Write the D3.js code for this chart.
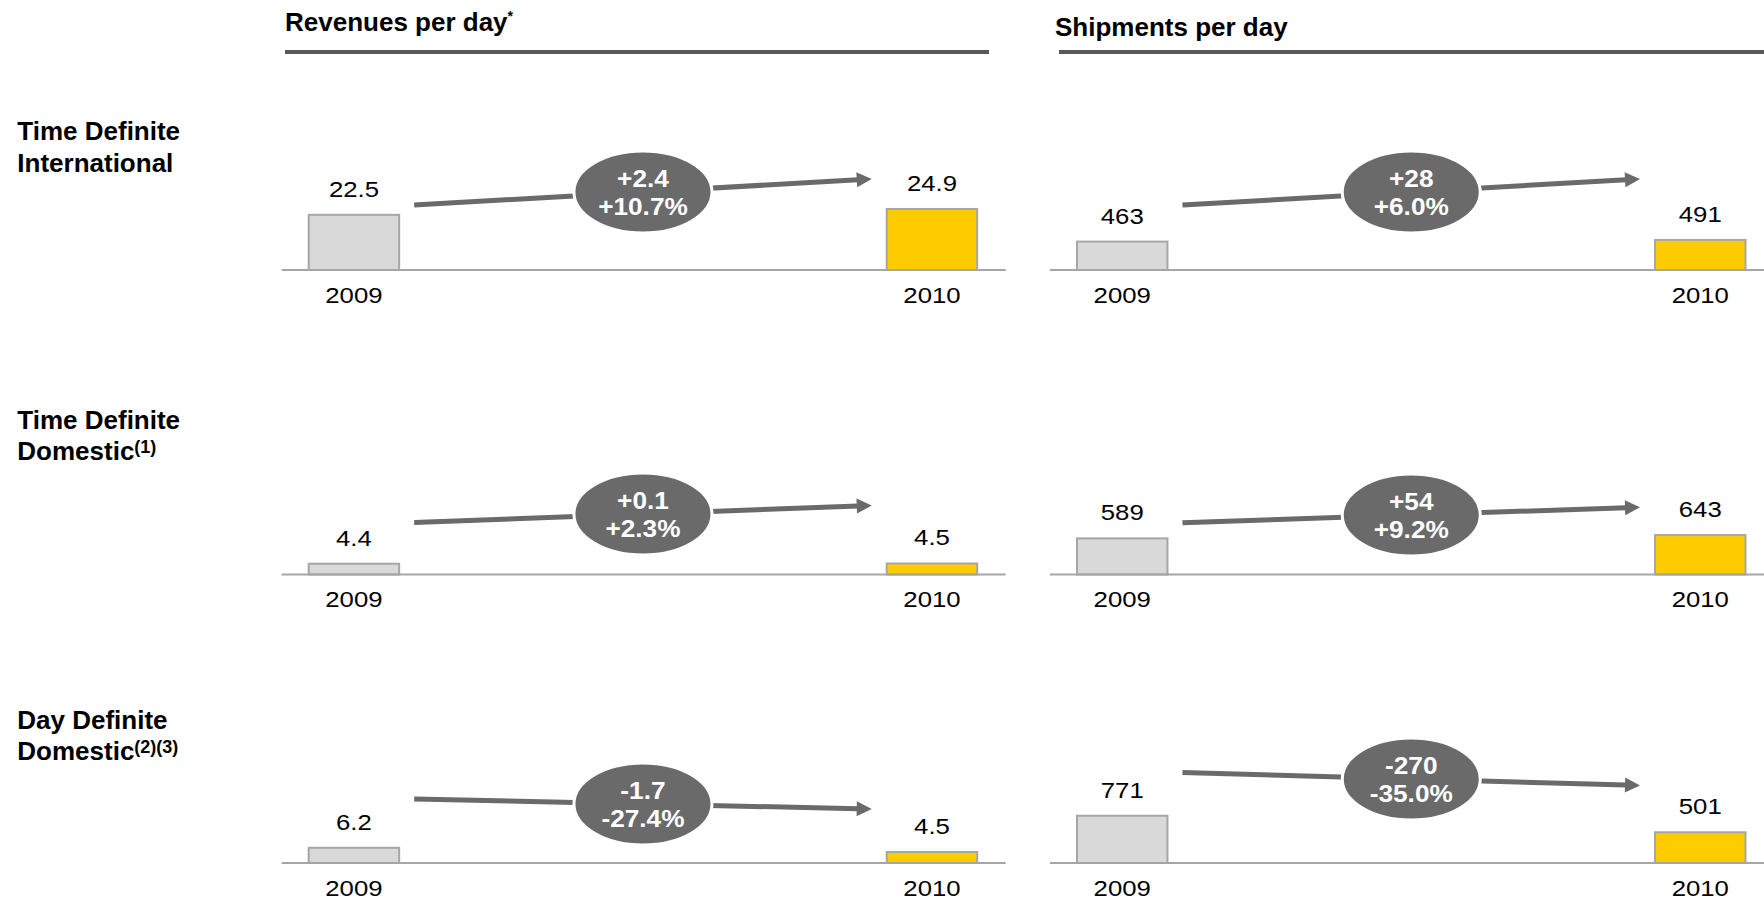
<!DOCTYPE html>
<html>
<head>
<meta charset="utf-8">
<script src="https://cdn.jsdelivr.net/npm/d3@7"></script>
<style>
  html, body { margin: 0; padding: 0; background: #fff; overflow: hidden; }
  svg { display: block; font-family: "Liberation Sans", Arial, Helvetica, sans-serif; }
</style>
</head>
<body>
<svg id="chart" width="1764" height="901"></svg>
<script>
// ---------------- data ----------------
const years = ["2009", "2010"];
const panelTitles = ["Revenues per day", "Shipments per day"];
const panelTitleMarks = ["*", ""];
const rowLabelLine1 = ["Time Definite", "Time Definite", "Day Definite"];
const rowLabelLine2 = ["International", "Domestic", "Domestic"];
const rowLabelNotes = ["", "(1)", "(2)(3)"];

const revenues2009 = [22.5, 4.4, 6.2];
const revenues2010 = [24.9, 4.5, 4.5];
const shipments2009 = [463, 589, 771];
const shipments2010 = [491, 643, 501];

const revenueChange = ["+2.4", "+0.1", "-1.7"];
const revenueChangePct = ["+10.7%", "+2.3%", "-27.4%"];
const shipmentChange = ["+28", "+54", "-270"];
const shipmentChangePct = ["+6.0%", "+9.2%", "-35.0%"];

const revenueLabels = [["22.5", "24.9"], ["4.4", "4.5"], ["6.2", "4.5"]];
const shipmentLabels = [["463", "491"], ["589", "643"], ["771", "501"]];

// ---------------- layout (positions / styles only) ----------------
const L = {
  panelX: [281.7, 1050],
  panelW: 724,
  barInsetL: 27,
  barInsetR: 28.5,
  rowAxisY: [270, 574.5, 863],
  barMaxH: 61.3,
  titleX: [285, 1055],
  titleY: [30.5, 36],
  headerX: [[285, 989], [1059, 1780]],
  headerY: 52,
  rowLabelX: 17.3,
  rowLabelY: [140, 428.5, 728.5],
  rowLabelGap: 31.6,
  yearOffset: 32.5,
  valueOffset: 18,
  // arrow centre height above axis, and absolute tilt (px), per [row][panel]
  arrowLift: [[78, 78], [60.5, 59.5], [59, 84]],
  arrowTilt: [[26, 26], [17, 15.5], [10, 13]],
  arrowGap: 15,
  ellRx: 69, ellRy: 41
};
const colors = { y2009: "#d9d9d9", y2010: "#ffcc00", barStroke: "#a6a6a6",
                 axis: "#a6a6a6", header: "#595959", arrow: "#6a6a6a" };

const panels = [
  { v09: revenues2009, v10: revenues2010, labels: revenueLabels,
    chg: revenueChange, pct: revenueChangePct, domain: [0, 25] },
  { v09: shipments2009, v10: shipments2010, labels: shipmentLabels,
    chg: shipmentChange, pct: shipmentChangePct, domain: [0, 1000] }
];

const svg = d3.select("#chart");

// titles + header rules
panels.forEach((p, pi) => {
  const t = svg.append("text")
    .attr("x", L.titleX[pi]).attr("y", L.titleY[pi])
    .attr("font-size", 26).attr("font-weight", "bold").attr("fill", "#000")
    .text(panelTitles[pi]);
  if (panelTitleMarks[pi]) {
    t.append("tspan").attr("font-size", 14).attr("dy", -10).text(panelTitleMarks[pi]);
  }
  svg.append("line")
    .attr("x1", L.headerX[pi][0]).attr("x2", L.headerX[pi][1])
    .attr("y1", L.headerY).attr("y2", L.headerY)
    .attr("stroke", colors.header).attr("stroke-width", 4);
});

// row labels
rowLabelLine1.forEach((l1, r) => {
  svg.append("text").attr("x", L.rowLabelX).attr("y", L.rowLabelY[r])
    .attr("font-size", 26).attr("font-weight", "bold").text(l1);
  const t2 = svg.append("text").attr("x", L.rowLabelX).attr("y", L.rowLabelY[r] + L.rowLabelGap)
    .attr("font-size", 26).attr("font-weight", "bold");
  t2.append("tspan").text(rowLabelLine2[r]);
  if (rowLabelNotes[r]) {
    t2.append("tspan").attr("font-size", 18).attr("dy", -7).text(rowLabelNotes[r]);
  }
});

// panels
panels.forEach((p, pi) => {
  const px = L.panelX[pi];
  const x = d3.scaleBand().domain(years)
    .range([px + L.barInsetL, px + L.panelW - L.barInsetR])
    .paddingInner(0.8435).paddingOuter(0);
  const h = d3.scaleLinear().domain(p.domain).range([0, L.barMaxH]);

  L.rowAxisY.forEach((axisY, r) => {
    const vals = [p.v09[r], p.v10[r]];
    const g = svg.append("g");

    // bars
    g.selectAll("rect").data(years).join("rect")
      .attr("x", d => x(d))
      .attr("width", x.bandwidth())
      .attr("y", (d, i) => axisY - h(vals[i]))
      .attr("height", (d, i) => h(vals[i]))
      .attr("fill", (d, i) => i === 0 ? colors.y2009 : colors.y2010)
      .attr("stroke", colors.barStroke).attr("stroke-width", 2);

    // axis line
    g.append("line")
      .attr("x1", px).attr("x2", px + L.panelW)
      .attr("y1", axisY).attr("y2", axisY)
      .attr("stroke", colors.axis).attr("stroke-width", 2);

    // value labels
    g.selectAll("text.val").data(years).join("text").attr("class", "val")
      .attr("transform", (d, i) => `translate(${x(d) + x.bandwidth() / 2},${axisY - h(vals[i]) - L.valueOffset}) scale(1.12,1)`)
      .attr("text-anchor", "middle").attr("font-size", 23).attr("fill", "#000")
      .text((d, i) => p.labels[r][i]);

    // year labels
    g.selectAll("text.yr").data(years).join("text").attr("class", "yr")
      .attr("transform", d => `translate(${x(d) + x.bandwidth() / 2},${axisY + L.yearOffset}) scale(1.12,1)`)
      .attr("text-anchor", "middle").attr("font-size", 23).attr("fill", "#000")
      .text(d => d);

    // change arrow
    const sign = vals[1] >= vals[0] ? 1 : -1;
    const tilt = L.arrowTilt[r][pi] * sign;
    const midY = axisY - L.arrowLift[r][pi];
    const x1 = x(years[0]) + x.bandwidth() + L.arrowGap;
    const x2 = x(years[1]) - L.arrowGap;
    const y1 = midY + tilt / 2, y2 = midY - tilt / 2;
    const ang = Math.atan2(y2 - y1, x2 - x1);
    const headL = 15, headW = 7.5;
    const bx = x2 - headL * Math.cos(ang), by = y2 - headL * Math.sin(ang);
    g.append("line").attr("x1", x1).attr("y1", y1).attr("x2", bx + Math.cos(ang)).attr("y2", by + Math.sin(ang))
      .attr("stroke", colors.arrow).attr("stroke-width", 5);
    g.append("path")
      .attr("d", `M${x2},${y2} L${bx - headW * Math.sin(ang)},${by + headW * Math.cos(ang)} L${bx + headW * Math.sin(ang)},${by - headW * Math.cos(ang)} Z`)
      .attr("fill", colors.arrow);

    // ellipse with change
    const cx = (x(years[0]) + x(years[1]) + x.bandwidth()) / 2;
    const cy = y1 + (y2 - y1) * (cx - x1) / (x2 - x1);
    g.append("ellipse").attr("cx", cx).attr("cy", cy).attr("rx", L.ellRx).attr("ry", L.ellRy)
      .attr("fill", colors.arrow).attr("stroke", "#fff").attr("stroke-width", 3);
    [[p.chg[r], -5], [p.pct[r], 23]].forEach(([txt, dy]) => {
      g.append("text")
        .attr("transform", `translate(${cx},${cy + dy}) scale(1.14,1)`)
        .attr("text-anchor", "middle").attr("font-size", 23).attr("font-weight", "bold")
        .attr("fill", "#fff").text(txt);
    });
  });
});
</script>
</body>
</html>
